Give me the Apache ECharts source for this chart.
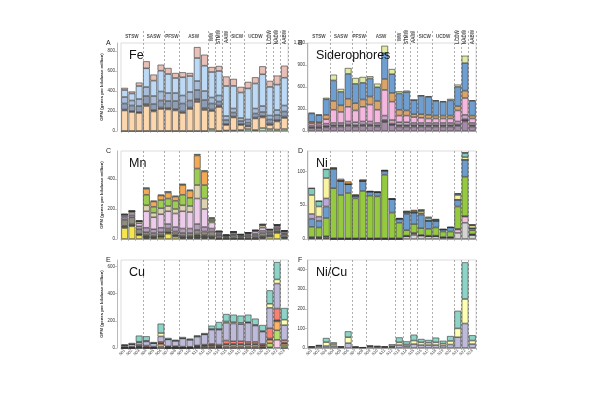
<!DOCTYPE html>
<html><head><meta charset="utf-8">
<script src="https://cdn.jsdelivr.net/npm/echarts@6/dist/echarts.min.js"></script>
<style>html,body{margin:0;padding:0;background:#fff}#c{width:600px;height:400px}</style>
</head><body><div id="c"></div><script>
// ---------- categories ----------
const samples = ['S01','S02','S03','S04','S05','S06','S07','S08','S09','S10','S11','S12','S13','S14','S15','S16','S17','S18','S19','S20','S21','S22','S23'];
const waterMasses = ['STSW','SASW','PFSW','ASW','WW','STMW','AAIW','SICW','UCDW','LCDW','NADW','AABW'];
const massSizes = [3,3,2,4,1,1,1,2,3,1,1,1];
const massVertical = [false,false,false,false,true,true,true,false,false,true,true,true];

// ---------- Fe ----------
const feGreen    = [0,0,0,0,0,0,0,0,0,0,0,0,20,0,5,5,10,20,10,30,20,15,20];
const fePeach    = [205,190,180,250,195,220,215,205,180,220,290,210,180,240,55,130,50,25,115,105,40,80,110];
const feDark     = [10,10,10,20,15,15,15,15,15,15,30,20,15,15,10,10,10,10,10,15,15,15,15];
const feGreyBlue = [60,55,60,80,60,70,70,80,80,70,90,80,60,40,40,40,30,30,40,40,40,50,50];
const feSteel    = [65,50,70,90,80,90,80,80,80,85,90,90,60,60,40,40,30,30,50,60,40,50,60];
const feLight    = [70,70,130,187,154,208,190,150,182,160,230,253,255,245,300,226,255,311,250,317,286,254,278];
const fePink     = [21,20,34,70,60,60,60,50,50,30,109,110,50,50,95,70,56,65,62,80,60,90,120];

// ---------- Siderophores ----------
const sidMauve = [40,40,50,60,60,70,60,70,70,60,120,80,60,60,60,60,60,60,60,60,70,130,60];
const sidDark  = [15,15,20,20,20,20,20,20,20,20,30,20,20,20,20,20,20,20,20,20,20,30,20];
const sidLight = [20,20,30,30,30,40,40,40,40,30,60,50,40,40,30,30,30,30,30,30,40,60,30];
const sidPink  = [30,25,60,180,150,200,160,200,230,180,350,250,90,90,80,70,60,60,60,60,150,230,60];
const sidTan   = [20,20,60,120,90,110,100,100,110,120,150,120,80,70,40,50,50,40,40,40,60,100,40];
const sidBlue  = [114,96,212,280,184,339,263,227,246,186,352,255,222,251,189,248,245,200,187,208,263,376,200];
const sidYG    = [10,10,20,78,40,80,80,80,30,50,100,70,30,20,10,10,10,10,10,20,30,100,10];

// ---------- Mn ----------
const mnYellow = [73,85,25,5,5,10,35,15,5,5,5,5,5,0,0,0,0,0,0,5,15,40,5];
const mnDark   = [15,15,10,20,15,15,15,15,15,15,25,20,15,10,8,10,8,10,12,15,12,12,12];
const mnGrey   = [40,45,30,20,20,20,20,20,20,20,30,25,30,15,8,15,10,12,15,20,15,15,15];
const mnMauve  = [15,15,20,30,25,30,30,30,30,30,40,30,20,10,5,8,5,8,10,15,8,10,8];
const mnPink   = [10,15,20,110,80,90,85,90,115,110,170,120,40,10,4,10,5,8,15,20,10,10,10];
const mnTan    = [10,10,14,40,30,40,35,30,40,40,90,70,10,5,0,4,2,3,5,15,3,6,4];
const mnGreen  = [0,0,0,70,40,55,50,55,70,55,110,90,10,0,0,0,0,0,0,5,0,0,0];
const mnOrange = [0,0,0,40,35,30,40,28,65,48,87,90,8,0,0,0,0,0,0,0,0,0,0];
const mnTeal   = [6,6,5,9,6,6,8,6,9,6,10,8,6,6,4,4,3,3,5,7,4,5,4];

// ---------- Ni ----------
const niGrey   = [1,1,1,0,0,0,0,0,0,0,0,0,0,4,6,5,4,4,2,2,9,24,6];
const niPink   = [1,1,2,0,0,0,0,0,0,0,0,0,0,0,2,0,0,0,0,0,5,9,0];
const niDark   = [1,1,1,1,1,1,1,1,1,1,1,1,1,1,1,1,1,1,1,1,1,1,1];
const niGreen  = [15,14,27,74,64,67,59,70,63,62,94,38,23,8,13,10,10,12,8,8,33,58,6];
const niBlue   = [12,10,17,29,21,13,4,15,6,6,6,20,6,24,17,20,12,10,3,6,10,25,3];
const niLav    = [7,6,12,0,0,0,0,0,0,0,0,0,0,2,0,2,0,0,0,0,0,0,0];
const niYellow = [28,15,30,0,0,0,0,0,0,0,0,0,0,0,0,3,0,0,0,0,7,4,4];
const niTeal   = [10,8,13,0,0,0,0,0,0,0,0,0,0,2,2,2,4,2,0,0,2,6,1];
const niOrange = [0,0,0,2,3,4,2,2,1,1,1,0,1,0,2,0,2,0,1,1,0,1,0];

// ---------- Cu ----------
const cuPink   = [0,0,0,0,0,0,0,0,0,0,0,0,0,0,0,0,0,0,0,0,5,60,0];
const cuGreen  = [0,0,3,0,0,10,0,0,0,0,5,8,8,5,10,10,10,10,10,5,30,70,15];
const cuOrange = [0,0,5,5,0,20,0,0,0,0,5,8,10,8,15,15,15,15,15,10,25,65,15];
const cuDark   = [5,5,5,5,5,5,8,8,5,5,4,4,4,4,5,5,5,5,5,5,10,10,8];
const cuRed    = [3,4,10,8,5,10,5,5,5,4,5,5,8,8,25,20,20,15,15,10,75,85,20];
const cuLav    = [12,18,18,30,25,40,50,40,60,52,65,75,105,110,130,130,125,140,120,90,150,184,110];
const cuYellow = [0,0,5,5,0,25,0,0,0,0,0,0,5,5,10,10,10,5,5,5,30,30,40];
const cuTeal   = [5,10,45,33,9,69,11,8,11,8,9,10,24,51,55,55,53,55,46,44,99,128,86];

// ---------- Ni/Cu ----------
const ncLav    = [5,10,10,10,5,25,4,2,8,6,5,5,15,10,20,15,15,15,12,18,55,125,20];
const ncYellow = [1,2,20,10,1,30,1,0.5,2,2,1,4,14,8,18,14,12,14,10,18,45,125,18];
const ncTeal   = [2.5,3,21,9,2,30,2,0.5,2,2,2,10,25,16,30,17,14,24,15,25,90,187,27];

// ---------- panel definitions ----------
const panels = [
  {title:'Fe', letter:'A', layers:[[feGreen,'#b6e2a6'],[fePeach,'#fcd7ad'],[feDark,'#7a6f69'],[feGreyBlue,'#8d9db5'],[feSteel,'#a7bdd9'],[feLight,'#bcd9f6'],[fePink,'#e8c0b7']],
   ymax:880, yint:200, showMax:false},
  {title:'Siderophores', letter:'B', layers:[[sidMauve,'#a68aa8'],[sidDark,'#5f4a63'],[sidLight,'#c9a6c8'],[sidPink,'#f5b7df'],[sidTan,'#d9a56c'],[sidBlue,'#6f9fd1'],[sidYG,'#e0eaa2']],
   ymax:1200, yint:300, showMax:true},
  {title:'Mn', letter:'C', layers:[[mnYellow,'#f4e64c'],[mnDark,'#514f42'],[mnGrey,'#8e8c7e'],[mnMauve,'#b69abb'],[mnPink,'#ecccea'],[mnTan,'#ddd3b0'],[mnGreen,'#9ccc52'],[mnOrange,'#f3aa56'],[mnTeal,'#5d8f81']],
   ymax:587, yint:200, showMax:false},
  {title:'Ni', letter:'D', layers:[[niGrey,'#d3d3d3'],[niPink,'#f3bfd8'],[niDark,'#555555'],[niGreen,'#95c940'],[niBlue,'#6c9ccc'],[niLav,'#b9a9d9'],[niYellow,'#faf3a2'],[niTeal,'#80cdbb'],[niOrange,'#e09a40']],
   ymax:130, yint:50, showMax:false},
  {title:'Cu', letter:'E', layers:[[cuPink,'#fccde5'],[cuGreen,'#b3de69'],[cuOrange,'#fdb462'],[cuDark,'#3a3a3a'],[cuRed,'#fb8072'],[cuLav,'#bebada'],[cuYellow,'#ffffb3'],[cuTeal,'#8dd3c7']],
   ymax:647, yint:200, showMax:false},
  {title:'Ni/Cu', letter:'F', layers:[[ncLav,'#bebada'],[ncYellow,'#ffffb3'],[ncTeal,'#8dd3c7']],
   ymax:449, yint:100, showMax:false}
];
// layout (positions/sizes)
const colLeft = [121, 308], colWidth = [167, 168], colOffset = [4, 1];
const rowTop = [43, 151, 260], plotH = 88;
const headerTop = 31, headerH = 12;

const boundaries = [];
{ let acc = 0; massSizes.forEach((s,i)=>{ acc += s; if (i < massSizes.length-1) boundaries.push(acc); }); }
const massCenters = [];
{ let acc = 0; massSizes.forEach(s=>{ massCenters.push(acc + s/2); acc += s; }); }

const grids = [], xAxes = [], yAxes = [], series = [], titles = [];
const dash = {show:true, interval:(i)=>boundaries.includes(i), lineStyle:{type:[2,2], color:'#7a7a7a', width:0.6}};
const FONT = 'Liberation Sans';

panels.forEach((p, k) => {
  const col = k % 2, row = Math.floor(k/2);
  grids.push({left:colLeft[col], top:rowTop[row], width:colWidth[col], height:plotH, show:true, borderColor:'#c8c8c8', borderWidth:0.6, containLabel:false});
  const bottomRow = row === 2;
  xAxes.push({type:'category', gridIndex:k, data:samples,
    axisLine:{show:true, lineStyle:{color:'#888', width:0.6}},
    axisTick:{show:true, length:2, lineStyle:{color:'#888', width:0.5}},
    axisLabel:{show:bottomRow, interval:0, rotate:45, fontSize:4, color:'#333', margin:2, fontFamily:FONT},
    splitLine:dash});
  yAxes.push({type:'value', gridIndex:k, min:0, max:p.ymax, interval:p.yint, offset:colOffset[col],
    axisLine:{show:true, lineStyle:{color:'#888', width:0.6}},
    axisTick:{show:true, length:2, lineStyle:{color:'#888', width:0.5}},
    axisLabel:{fontSize:4.5, color:'#333', margin:2, showMaxLabel:p.showMax, fontFamily:FONT},
    splitLine:{show:false},
    name: col === 0 ? 'GPM (genes per kilobase million)' : '',
    nameLocation:'middle', nameGap:9,
    nameTextStyle:{fontSize:4.3, color:'#333', fontWeight:'bold', fontFamily:FONT}});
  p.layers.forEach(([data, color], li) => {
    series.push({type:'bar', xAxisIndex:k, yAxisIndex:k, stack:'s'+k, data:data,
      barCategoryGap:'8%', silent:true, animation:false,
      itemStyle:{color:color, borderColor:'#333', borderWidth:0.6}});
  });
  titles.push({text:p.title, left:colLeft[col]+3, top:rowTop[row]+1,
    textStyle:{fontSize:12.5, fontWeight:'normal', color:'#111', fontFamily:FONT}});
  titles.push({text:p.letter, left:col === 0 ? 101 : 293, top:rowTop[row]-8,
    textStyle:{fontSize:7, fontWeight:'normal', color:'#222', fontFamily:FONT}});
});

// header rows with water-mass names (above A and B)
[0,1].forEach(col => {
  const gi = grids.length;
  grids.push({left:colLeft[col], top:headerTop, width:colWidth[col], height:headerH, show:false});
  const catIdx = xAxes.length;
  xAxes.push({type:'category', gridIndex:gi, data:samples, axisLine:{show:false}, axisTick:{show:false}, axisLabel:{show:false}, splitLine:dash});
  const valIdx = xAxes.length;
  xAxes.push({type:'value', gridIndex:gi, min:0, max:samples.length, show:false});
  const yi = yAxes.length;
  yAxes.push({type:'value', gridIndex:gi, min:0, max:1, show:false});
  series.push({type:'scatter', xAxisIndex:valIdx, yAxisIndex:yi, symbolSize:0, silent:true, animation:false,
    label:{show:true, position:'inside', formatter:'{b}', fontSize:4.6, fontWeight:'bold', color:'#222', fontFamily:FONT},
    data: waterMasses.map((m,i)=>({name:m, value:[massCenters[i], 0.5], label:{rotate: massVertical[i] ? 90 : 0}}))});
});

const chart = echarts.init(document.getElementById('c'), null, {renderer:'canvas'});
chart.setOption({animation:false, backgroundColor:'#fff', title:titles, grid:grids, xAxis:xAxes, yAxis:yAxes, series:series});
</script></body></html>
